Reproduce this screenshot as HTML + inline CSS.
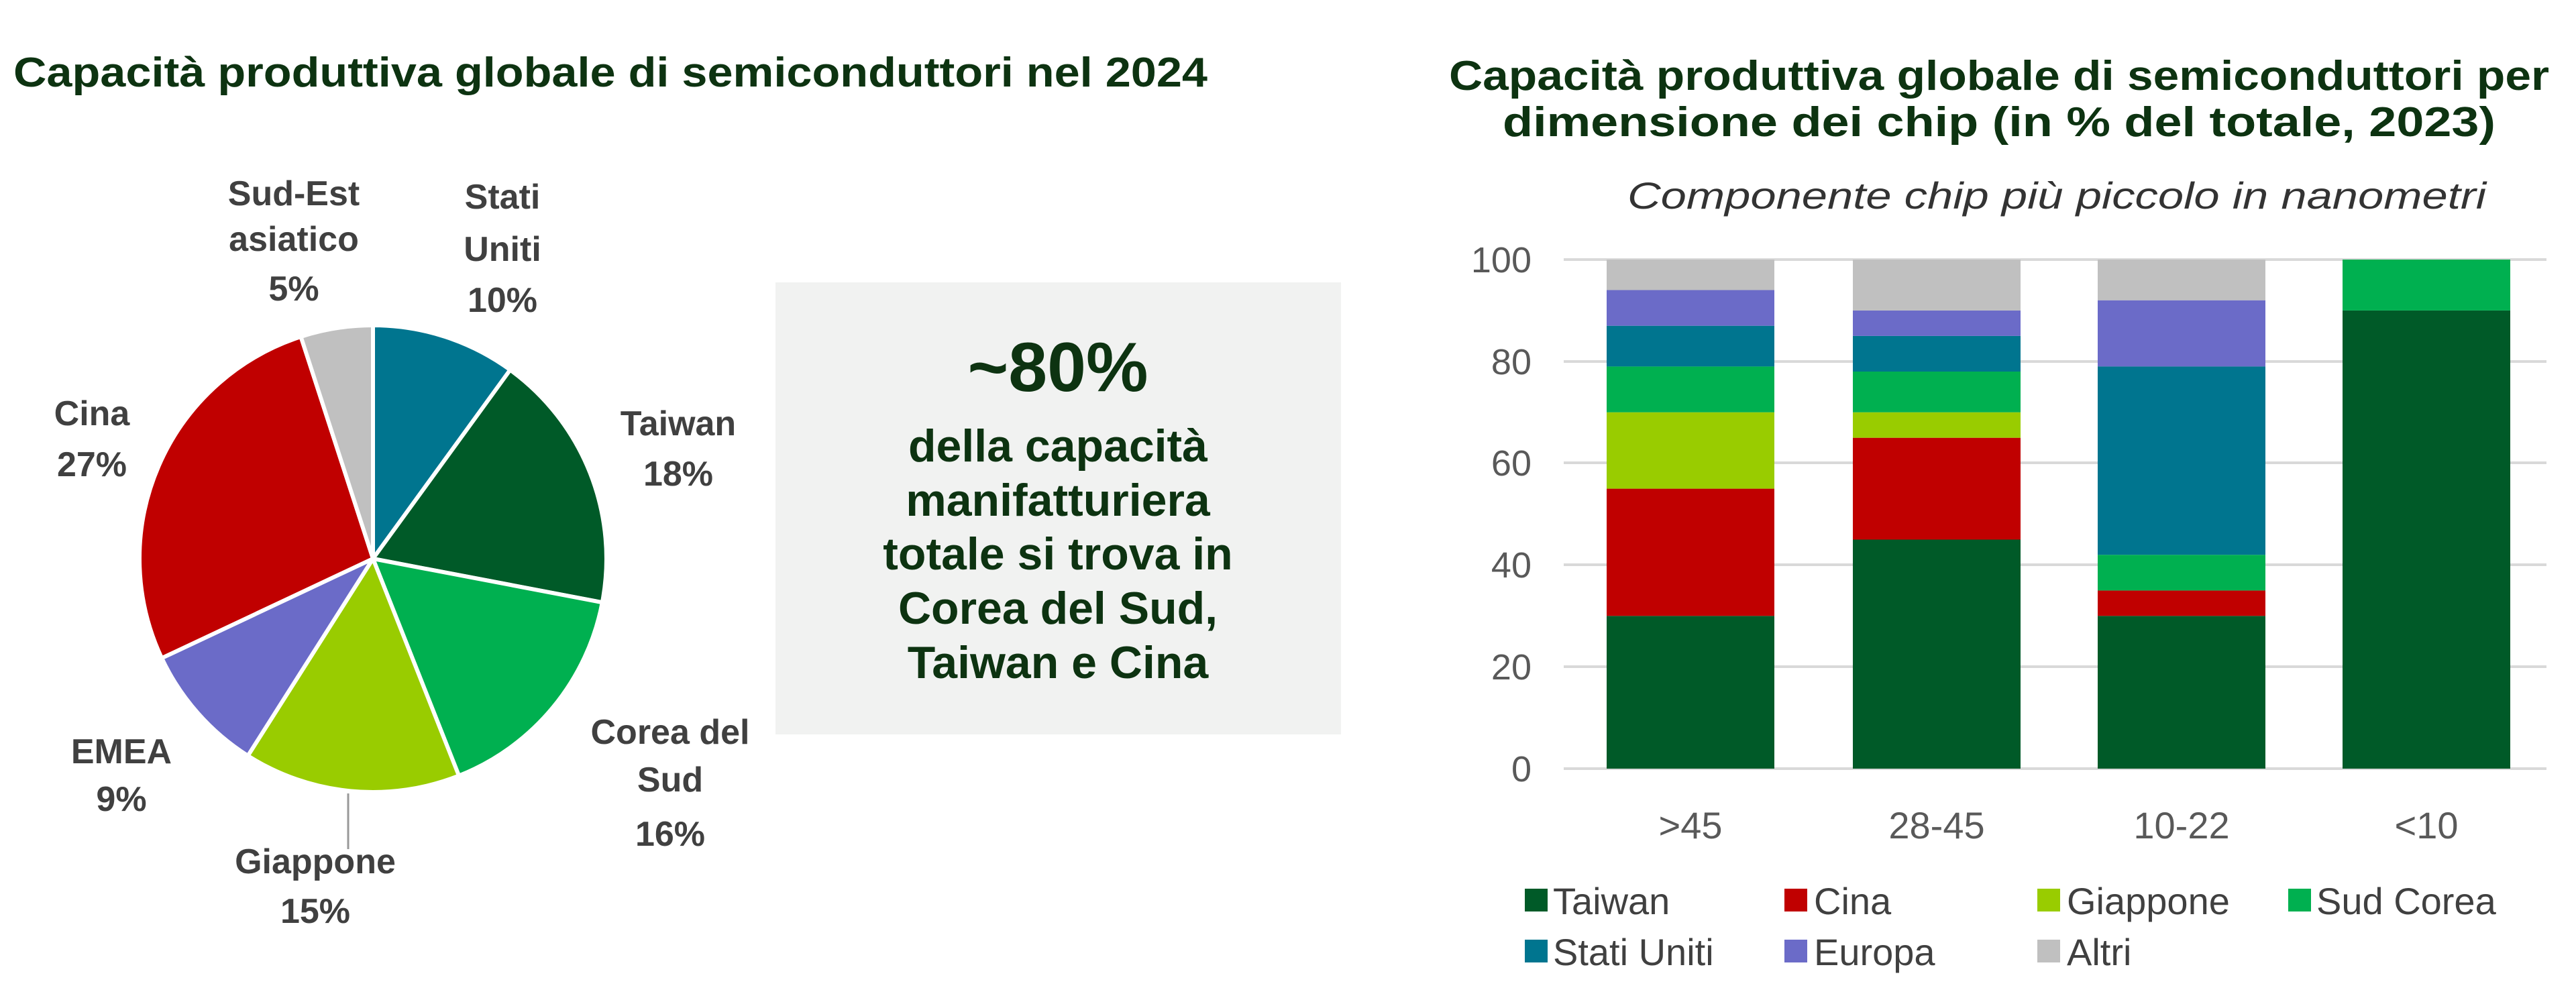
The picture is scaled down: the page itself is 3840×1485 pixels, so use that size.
<!DOCTYPE html>
<html><head><meta charset="utf-8"><style>
html,body{margin:0;padding:0;background:#fff;}
svg{display:block;}
text{font-family:"Liberation Sans",sans-serif;}
</style></head><body>
<svg width="3840" height="1485" viewBox="0 0 3840 1485" xmlns="http://www.w3.org/2000/svg">
<text x="20" y="129" font-size="62" font-weight="bold" fill="#0d3311" textLength="1780" lengthAdjust="spacingAndGlyphs">Capacità produttiva globale di semiconduttori nel 2024</text>

<g stroke="#fff" stroke-width="6" stroke-linejoin="round">
<path d="M556,833 L556,485 A348,348 0 0 1 760.5,551.5 Z" fill="#00758f"/>
<path d="M556,833 L760.5,551.5 A348,348 0 0 1 897.8,898.2 Z" fill="#005a28"/>
<path d="M556,833 L897.8,898.2 A348,348 0 0 1 684.1,1156.6 Z" fill="#00b050"/>
<path d="M556,833 L684.1,1156.6 A348,348 0 0 1 369.5,1126.8 Z" fill="#99cc00"/>
<path d="M556,833 L369.5,1126.8 A348,348 0 0 1 241.1,981.2 Z" fill="#6b6bc8"/>
<path d="M556,833 L241.1,981.2 A348,348 0 0 1 448.5,502 Z" fill="#c00000"/>
<path d="M556,833 L448.5,502 A348,348 0 0 1 556,485 Z" fill="#c0c0c0"/>
</g>
<line x1="519" y1="1183" x2="519" y2="1266" stroke="#999" stroke-width="3"/>
<g font-size="52" font-weight="bold" fill="#404040" text-anchor="middle">
<text x="438" y="306">Sud-Est</text><text x="438" y="374">asiatico</text><text x="438" y="448">5%</text>
<text x="749" y="311">Stati</text><text x="749" y="389">Uniti</text><text x="749" y="465">10%</text>
<text x="1011" y="649">Taiwan</text><text x="1011" y="724">18%</text>
<text x="137" y="634">Cina</text><text x="137" y="710">27%</text>
<text x="181" y="1138">EMEA</text><text x="181" y="1209">9%</text>
<text x="470" y="1302">Giappone</text><text x="470" y="1376">15%</text>
<text x="999" y="1109">Corea del</text><text x="999" y="1180">Sud</text><text x="999" y="1261">16%</text>
</g>

<rect x="1156" y="421" width="843" height="674" fill="#f1f2f1"/>
<g fill="#0d3311" font-weight="bold" text-anchor="middle">
<text x="1577" y="583" font-size="104">~80%</text>
<g font-size="68">
<text x="1577" y="688">della capacità</text>
<text x="1577" y="769">manifatturiera</text>
<text x="1577" y="849">totale si trova in</text>
<text x="1577" y="930">Corea del Sud,</text>
<text x="1577" y="1011">Taiwan e Cina</text>
</g></g>

<g fill="#0d3311" font-weight="bold" font-size="62" text-anchor="middle">
<text x="2980" y="134" textLength="1640" lengthAdjust="spacingAndGlyphs">Capacità produttiva globale di semiconduttori per</text>
<text x="2980" y="203" textLength="1480" lengthAdjust="spacingAndGlyphs">dimensione dei chip (in % del totale, 2023)</text>
</g>
<text x="3066" y="311" font-size="56" font-style="italic" fill="#333" text-anchor="middle" textLength="1280" lengthAdjust="spacingAndGlyphs">Componente chip più piccolo in nanometri</text>

<g stroke="#d9d9d9" stroke-width="4">
<line x1="2331" y1="387" x2="3796" y2="387"/>
<line x1="2331" y1="539" x2="3796" y2="539"/>
<line x1="2331" y1="690" x2="3796" y2="690"/>
<line x1="2331" y1="842" x2="3796" y2="842"/>
<line x1="2331" y1="994" x2="3796" y2="994"/>
<line x1="2331" y1="1146" x2="3796" y2="1146"/>
</g>
<g font-size="54" fill="#595959" text-anchor="end">
<text x="2283" y="406">100</text><text x="2283" y="558">80</text><text x="2283" y="709">60</text>
<text x="2283" y="861">40</text><text x="2283" y="1013">20</text><text x="2283" y="1165">0</text>
</g>

<rect x="2395" y="918.3" width="250" height="227.7" fill="#005a28"/>
<rect x="2395" y="728.6" width="250" height="189.7" fill="#c00000"/>
<rect x="2395" y="614.7" width="250" height="113.9" fill="#99cc00"/>
<rect x="2395" y="546.4" width="250" height="68.3" fill="#00b050"/>
<rect x="2395" y="485.7" width="250" height="60.7" fill="#00758f"/>
<rect x="2395" y="432.5" width="250" height="53.2" fill="#6b6bc8"/>
<rect x="2395" y="387" width="250" height="45.5" fill="#c0c0c0"/>
<rect x="2762" y="804.5" width="250" height="341.5" fill="#005a28"/>
<rect x="2762" y="652.7" width="250" height="151.8" fill="#c00000"/>
<rect x="2762" y="614.7" width="250" height="38" fill="#99cc00"/>
<rect x="2762" y="554" width="250" height="60.7" fill="#00b050"/>
<rect x="2762" y="500.9" width="250" height="53.1" fill="#00758f"/>
<rect x="2762" y="462.9" width="250" height="38" fill="#6b6bc8"/>
<rect x="2762" y="387" width="250" height="75.9" fill="#c0c0c0"/>
<rect x="3127" y="918.3" width="250" height="227.7" fill="#005a28"/>
<rect x="3127" y="880.4" width="250" height="37.9" fill="#c00000"/>
<rect x="3127" y="827.2" width="250" height="53.2" fill="#00b050"/>
<rect x="3127" y="546.4" width="250" height="280.8" fill="#00758f"/>
<rect x="3127" y="447.7" width="250" height="98.7" fill="#6b6bc8"/>
<rect x="3127" y="387" width="250" height="60.7" fill="#c0c0c0"/>
<rect x="3492" y="462.9" width="250" height="683.1" fill="#005a28"/>
<rect x="3492" y="387" width="250" height="75.9" fill="#00b050"/>

<g font-size="56" fill="#595959" text-anchor="middle">
<text x="2520" y="1250">&gt;45</text><text x="2887" y="1250">28-45</text>
<text x="3252" y="1250">10-22</text><text x="3617" y="1250">&lt;10</text>
</g>

<g font-size="56" fill="#404040">
<rect x="2273" y="1325" width="34" height="34" fill="#005a28"/><text x="2315" y="1363">Taiwan</text>
<rect x="2660" y="1325" width="34" height="34" fill="#c00000"/><text x="2704" y="1363">Cina</text>
<rect x="3037" y="1325" width="34" height="34" fill="#99cc00"/><text x="3081" y="1363">Giappone</text>
<rect x="3411" y="1325" width="34" height="34" fill="#00b050"/><text x="3453" y="1363">Sud Corea</text>
<rect x="2273" y="1401" width="34" height="34" fill="#00758f"/><text x="2315" y="1439">Stati Uniti</text>
<rect x="2660" y="1401" width="34" height="34" fill="#6b6bc8"/><text x="2704" y="1439">Europa</text>
<rect x="3037" y="1401" width="34" height="34" fill="#c0c0c0"/><text x="3081" y="1439">Altri</text>
</g>
</svg>
</body></html>
